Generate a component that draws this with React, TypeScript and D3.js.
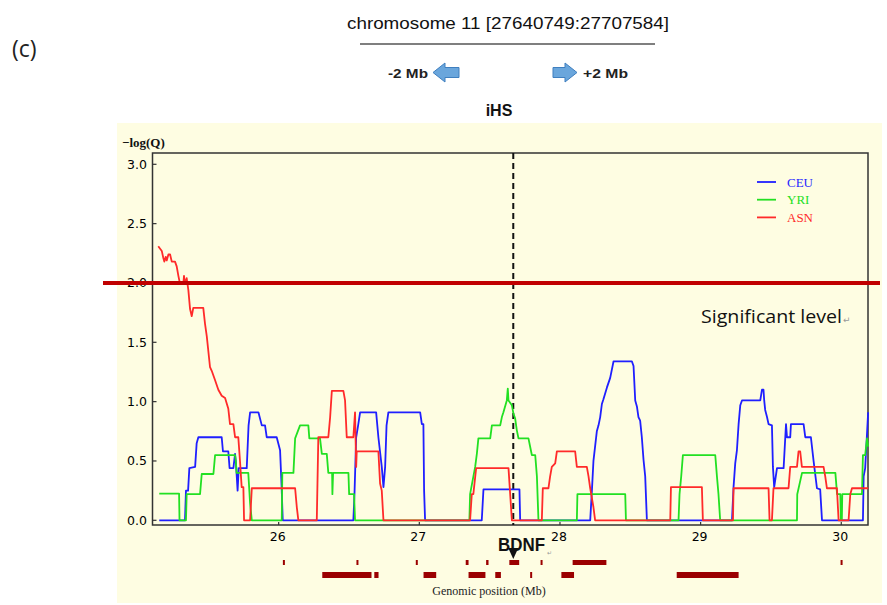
import React from 'react';
import { scaleLinear, line, curveLinear } from 'd3';

// ---- data (Mb, -log(Q)) ----
const xTicks = [26, 27, 28, 29, 30];
const yTicks = [0, 0.5, 1.0, 1.5, 2.0, 2.5, 3.0];
const populations = ['CEU', 'YRI', 'ASN'];
const popColors = ['#1f1fff', '#22e022', '#ff2a2a'];
const significance = 2.0;
const bdnfPos = 27.668;

const ceu: [number, number][] = [
  [25.151, 0], [25.334, 0], [25.341, 0.25], [25.356, 0.25], [25.365, 0.44], [25.406, 0.45],
  [25.417, 0.65], [25.429, 0.7], [25.595, 0.7], [25.604, 0.58], [25.642, 0.58], [25.651, 0.44],
  [25.678, 0.44], [25.69, 0.56], [25.697, 0.47], [25.708, 0.25], [25.716, 0.44], [25.773, 0.44],
  [25.786, 0.8], [25.797, 0.91], [25.856, 0.91], [25.88, 0.8], [25.903, 0.8], [25.915, 0.7],
  [25.986, 0.7], [26.01, 0.59], [26.021, 0.28], [26.029, 0], [26.531, 0], [26.539, 0.22],
  [26.551, 0.7], [26.565, 0.8], [26.579, 0.91], [26.693, 0.91], [26.709, 0.7], [26.733, 0.45],
  [26.745, 0.28], [26.757, 0.45], [26.767, 0.8], [26.78, 0.91], [27.006, 0.91], [27.018, 0.81],
  [27.029, 0.81], [27.034, 0.25], [27.041, 0], [27.444, 0], [27.456, 0.26], [27.712, 0.26],
  [27.717, 0], [28.215, 0], [28.227, 0.25], [28.238, 0.5], [28.262, 0.75], [28.274, 0.8],
  [28.286, 0.87], [28.298, 0.98], [28.309, 1.02], [28.334, 1.12], [28.357, 1.2], [28.381, 1.34],
  [28.511, 1.34], [28.523, 1.3], [28.535, 1.01], [28.547, 0.96], [28.558, 0.87], [28.57, 0.84],
  [28.582, 0.7], [28.594, 0.51], [28.606, 0.37], [28.618, 0], [29.223, 0], [29.234, 0.28],
  [29.246, 0.48], [29.258, 0.59], [29.27, 0.81], [29.282, 0.97], [29.294, 1.01], [29.424, 1.01],
  [29.436, 1.1], [29.447, 1.1], [29.452, 1.01], [29.459, 0.93], [29.472, 0.87], [29.483, 0.81],
  [29.507, 0.8], [29.514, 0.45], [29.523, 0.28], [29.543, 0.44], [29.59, 0.44], [29.607, 0.81],
  [29.614, 0.7], [29.637, 0.7], [29.642, 0.81], [29.732, 0.81], [29.744, 0.7], [29.784, 0.7],
  [29.803, 0.5], [29.827, 0.27], [29.85, 0.26], [29.863, 0], [30.154, 0], [30.159, 0.37],
  [30.17, 0.44], [30.191, 0.91],
];

const yri: [number, number][] = [
  [25.151, 0.225], [25.292, 0.225], [25.295, 0], [25.341, 0], [25.346, 0.22], [25.441, 0.22],
  [25.453, 0.39], [25.536, 0.39], [25.548, 0.55], [25.69, 0.55], [25.695, 0.5], [25.701, 0.4],
  [25.784, 0.4], [25.797, 0.14], [25.809, 0], [26.022, 0], [26.026, 0.4], [26.105, 0.4],
  [26.117, 0.69], [26.152, 0.8], [26.211, 0.8], [26.218, 0.69], [26.294, 0.69], [26.307, 0.56],
  [26.342, 0.56], [26.353, 0.4], [26.38, 0.4], [26.382, 0.22], [26.387, 0.4], [26.496, 0.4],
  [26.501, 0.22], [26.536, 0.22], [26.543, 0], [27.356, 0], [27.361, 0.22], [27.397, 0.45],
  [27.409, 0.56], [27.42, 0.69], [27.504, 0.69], [27.516, 0.8], [27.575, 0.8], [27.587, 0.87],
  [27.598, 0.91], [27.622, 1.01], [27.629, 1.11], [27.634, 1.01], [27.658, 0.97], [27.669, 0.9],
  [27.681, 0.86], [27.693, 0.76], [27.705, 0.69], [27.776, 0.69], [27.788, 0.62], [27.8, 0.55],
  [27.824, 0.55], [27.836, 0.37], [27.847, 0], [28.12, 0], [28.124, 0.22], [28.464, 0.22],
  [28.469, 0], [28.843, 0], [28.85, 0.22], [28.862, 0.37], [28.874, 0.55], [29.104, 0.55],
  [29.116, 0.37], [29.127, 0.22], [29.139, 0], [29.685, 0], [29.687, 0.22], [29.721, 0.4],
  [29.958, 0.4], [29.97, 0.22], [29.993, 0.22], [29.997, 0], [30.004, 0], [30.007, 0.22],
  [30.147, 0.22], [30.154, 0.55], [30.17, 0.55], [30.183, 0.69], [30.191, 0.62],
];

const asn: [number, number][] = [
  [25.144, 2.31], [25.169, 2.27], [25.18, 2.21], [25.187, 2.18], [25.197, 2.22], [25.204, 2.19],
  [25.216, 2.24], [25.228, 2.24], [25.24, 2.18], [25.263, 2.18], [25.275, 2.14], [25.287, 2.06],
  [25.299, 1.99], [25.322, 1.99], [25.327, 2.06], [25.334, 1.99], [25.346, 2.04], [25.358, 1.94],
  [25.37, 1.78], [25.382, 1.72], [25.393, 1.79], [25.464, 1.79], [25.476, 1.66], [25.489, 1.55],
  [25.512, 1.29], [25.524, 1.26], [25.548, 1.18], [25.571, 1.1], [25.595, 1.05], [25.619, 1.03],
  [25.642, 0.94], [25.654, 0.81], [25.678, 0.81], [25.69, 0.7], [25.713, 0.7], [25.725, 0.5],
  [25.737, 0.28], [25.749, 0.28], [25.754, 0], [25.797, 0], [25.809, 0.27], [26.117, 0.27],
  [26.129, 0.11], [26.14, 0], [26.271, 0], [26.282, 0.7], [26.353, 0.7], [26.366, 0.87],
  [26.378, 1.09], [26.46, 1.09], [26.472, 1.01], [26.484, 0.7], [26.531, 0.7], [26.543, 0.91],
  [26.551, 0.45], [26.555, 0.58], [26.709, 0.58], [26.721, 0.31], [26.733, 0.25], [26.745, 0],
  [27.361, 0], [27.373, 0.22], [27.384, 0.22], [27.404, 0.44], [27.634, 0.44], [27.646, 0.22],
  [27.658, 0], [27.871, 0], [27.878, 0.27], [27.918, 0.27], [27.93, 0.37], [27.942, 0.45],
  [27.966, 0.48], [27.978, 0.58], [28.108, 0.58], [28.12, 0.45], [28.191, 0.45], [28.203, 0.37],
  [28.215, 0.27], [28.238, 0.11], [28.25, 0], [28.784, 0], [28.789, 0.28], [29.009, 0.28],
  [29.016, 0], [29.23, 0], [29.234, 0.27], [29.483, 0.27], [29.49, 0], [29.507, 0],
  [29.518, 0.27], [29.625, 0.27], [29.637, 0.45], [29.685, 0.45], [29.696, 0.58], [29.708, 0.58],
  [29.72, 0.45], [29.874, 0.45], [29.886, 0.37], [29.898, 0.27], [29.969, 0.27], [29.981, 0],
  [30.052, 0], [30.064, 0.22], [30.076, 0.27], [30.192, 0.27],
];

const seriesList = [ceu, yri, asn];

// gene track (start, end in Mb)
const genesTop: [number, number][] = [
  [26.03, 26.043], [26.553, 26.566], [26.975, 26.988], [27.33, 27.35], [27.475, 27.492],
  [27.64, 27.71], [27.862, 27.875], [28.09, 28.33], [29.995, 30.008],
];
const genesBottom: [number, number][] = [
  [26.31, 26.66], [26.68, 26.71], [27.03, 27.12], [27.35, 27.47], [27.54, 27.58],
  [27.788, 27.8], [28.01, 28.1], [28.83, 29.27],
];

export default function App() {
  const left = 152.5, right = 868, top = 153, bottom = 525;

  const x = scaleLinear().domain([25.103, 30.19]).range([left, right]);
  const y = scaleLinear().domain([0, 3]).range([520.3, 164.3]);

  const path = line<[number, number]>()
    .x(d => x(d[0]))
    .y(d => y(d[1]))
    .curve(curveLinear);

  const geneBar = (g: [number, number], y0: number, h: number, i: number) => {
    const x0 = x(g[0]);
    const w = Math.max(2, x(g[1]) - x0);
    return <rect key={i} x={x0} y={y0} width={w} height={h} fill="#9b0000" />;
  };

  return (
    <div style={{ position: 'absolute', left: 0, top: 0 }}>
      <svg width={887} height={605} style={{ display: 'block', background: '#fff' }}>
        {/* header */}
        <text x={12} y={57} fontFamily="Open Sans, sans-serif" fontSize={23} fill="#222">(c)</text>
        <text x={508} y={29} textAnchor="middle" fontFamily="Liberation Sans, Arial, sans-serif"
          fontSize={17} textLength={322} lengthAdjust="spacingAndGlyphs" fill="#111">
          chromosome 11 [27640749:27707584]
        </text>
        <line x1={360} x2={655} y1={44} y2={44} stroke="#555" strokeWidth={1.6} />
        <text x={388} y={78} fontFamily="Liberation Sans, Arial, sans-serif" fontSize={13}
          fontWeight="bold" fill="#222" textLength={40} lengthAdjust="spacingAndGlyphs">-2 Mb</text>
        <polygon points="433,72.5 445,63 445,67.5 459,67.5 459,77.5 445,77.5 445,82"
          fill="#6aa6dc" stroke="#3f7fbf" strokeWidth={1} />
        <polygon points="577,72.5 565,63 565,67.5 553,67.5 553,77.5 565,77.5 565,82"
          fill="#6aa6dc" stroke="#3f7fbf" strokeWidth={1} />
        <text x={583} y={78} fontFamily="Liberation Sans, Arial, sans-serif" fontSize={13}
          fontWeight="bold" fill="#222" textLength={45} lengthAdjust="spacingAndGlyphs">+2 Mb</text>
        <text x={499} y={116} textAnchor="middle" fontFamily="Liberation Sans, Arial, sans-serif"
          fontSize={16} fontWeight="bold" fill="#111">iHS</text>

        {/* panel */}
        <rect x={117} y={123} width={765} height={480} fill="#fefde2" />

        {/* y axis label */}
        <text x={122} y={147} fontFamily="Liberation Serif, Times New Roman, serif" fontSize={13}
          fontWeight="bold" fill="#111">
          −log(Q)
        </text>

        {/* frame */}
        <rect x={left} y={top} width={right - left} height={bottom - top} fill="none" stroke="#333" strokeWidth={1.5} />

        {/* y ticks */}
        {yTicks.map(t => (
          <g key={t}>
            <line x1={left} x2={left + 4} y1={y(t)} y2={y(t)} stroke="#333" strokeWidth={1.2} />
            <text x={147} y={y(t) + 4.5} textAnchor="end" fontFamily="DejaVu Sans, Verdana, sans-serif"
              fontSize={12.5} fill="#000">{t.toFixed(1)}</text>
          </g>
        ))}

        {/* x ticks */}
        {xTicks.map(t => (
          <g key={t}>
            <line x1={x(t)} x2={x(t)} y1={bottom} y2={bottom - 3} stroke="#333" strokeWidth={1.2} />
            <text x={x(t) - 1} y={541} textAnchor="middle" fontFamily="DejaVu Sans, Verdana, sans-serif"
              fontSize={12.5} fill="#000">{t}</text>
          </g>
        ))}

        {/* BDNF dashed marker */}
        <line x1={x(bdnfPos)} x2={x(bdnfPos)} y1={top} y2={bottom} stroke="#111" strokeWidth={2}
          strokeDasharray="6,4" />

        {/* series */}
        {seriesList.map((s, i) => (
          <path key={populations[i]} d={path(s) || ''} fill="none" stroke={popColors[i]} strokeWidth={1.8}
            strokeLinejoin="round" />
        ))}

        {/* significance line */}
        <line x1={103} x2={880} y1={y(significance)} y2={y(significance)} stroke="#c00000" strokeWidth={4} />
        <text x={701} y={323} fontFamily="Open Sans, Noto Sans, sans-serif" fontSize={19} fill="#111"
          textLength={141} lengthAdjust="spacingAndGlyphs">Significant level</text>
        <text x={843} y={323} fontFamily="DejaVu Sans, sans-serif" fontSize={9} fill="#999">↵</text>

        {/* legend */}
        {populations.map((p, i) => (
          <g key={p}>
            <line x1={757} x2={776} y1={182 + i * 17.7} y2={182 + i * 17.7} stroke={popColors[i]} strokeWidth={1.8} />
            <text x={787} y={186.5 + i * 17.7} fontFamily="Liberation Serif, Times New Roman, serif"
              fontSize={13} fill={popColors[i]}>{p}</text>
          </g>
        ))}

        {/* BDNF label */}
        <text x={498} y={551} fontFamily="Liberation Sans, Arial, sans-serif" fontSize={18} fontWeight="bold"
          fill="#111" textLength={47} lengthAdjust="spacingAndGlyphs">BDNF</text>
        <text x={547} y={555} fontFamily="DejaVu Sans, sans-serif" fontSize={6} fill="#999">↵</text>
        <polygon points={`${x(bdnfPos) - 5},548 ${x(bdnfPos) + 5},548 ${x(bdnfPos)},559`} fill="#111" />

        {/* gene track */}
        {genesTop.map((g, i) => geneBar(g, 560, 5, i))}
        {genesBottom.map((g, i) => geneBar(g, 572, 6, i))}

        <text x={489} y={595} textAnchor="middle" fontFamily="Liberation Serif, Times New Roman, serif"
          fontSize={12} fill="#222">Genomic position (Mb)</text>
      </svg>
    </div>
  );
}
